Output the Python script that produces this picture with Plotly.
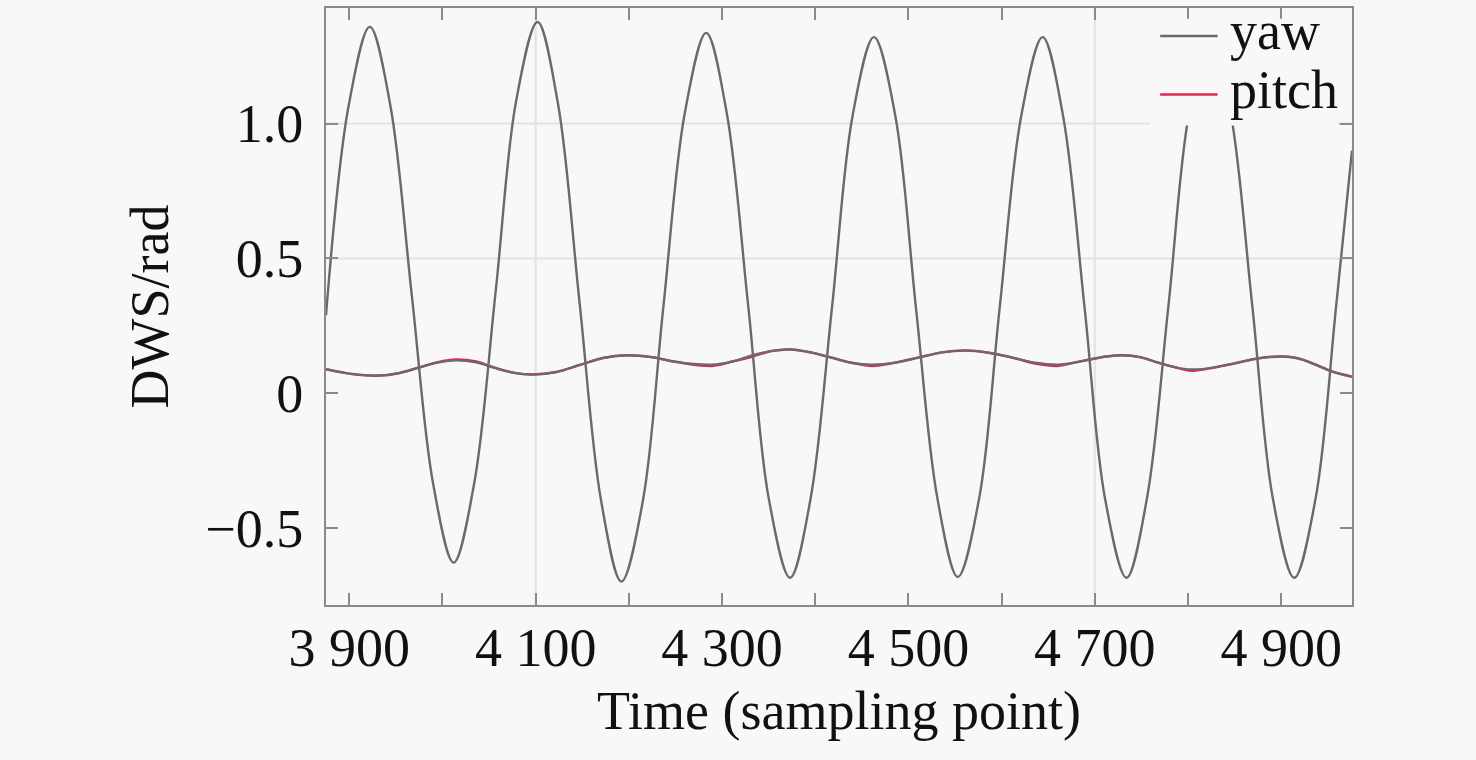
import plotly.graph_objects as go

# yaw: large oscillation (peaks, troughs, in-between points)
yaw_x = [3875, 3899, 3922, 3944, 3967, 3990, 4012, 4034, 4057, 4079, 4102,
         4124, 4147, 4170, 4192, 4215, 4237, 4260, 4283, 4305, 4328, 4350,
         4373, 4395, 4418, 4440, 4463, 4486, 4508, 4531, 4553, 4576, 4598,
         4621, 4644, 4666, 4689, 4711, 4734, 4756, 4779, 4801, 4824, 4846,
         4869, 4891, 4914, 4937, 4959, 4976]
yaw_y = [0.29, 1.06, 1.358, 1.068, 0.366, -0.336, -0.627, -0.334, 0.375, 1.083, 1.376,
         1.072, 0.340, -0.393, -0.697, -0.399, 0.320, 1.038, 1.336, 1.040, 0.327, -0.387,
         -0.683, -0.390, 0.319, 1.027, 1.320, 1.027, 0.320, -0.387, -0.680, -0.387, 0.320,
         1.027, 1.320, 1.027, 0.319, -0.390, -0.683, -0.388, 0.324, 1.035, 1.330, 1.035,
         0.324, -0.388, -0.683, -0.388, 0.324, 0.90]

# pitch: small oscillation
pitch_x = [3875, 3903, 3932, 3953, 3974, 3995, 4015, 4036, 4056, 4077, 4097,
           4122, 4147, 4172, 4198, 4225, 4250, 4289, 4311, 4333, 4353, 4373,
           4395, 4417, 4440, 4461, 4486, 4511, 4536, 4561, 4586, 4611, 4636,
           4660, 4678, 4695, 4713, 4730, 4749, 4767, 4786, 4804, 4828, 4852,
           4876, 4900, 4918, 4936, 4954, 4976]
pitch_ref = [0.090, 0.072, 0.066, 0.075, 0.095, 0.114, 0.122, 0.115, 0.095, 0.076, 0.070,
             0.079, 0.105, 0.131, 0.141, 0.134, 0.117, 0.107, 0.118, 0.142, 0.157, 0.163,
             0.152, 0.133, 0.113, 0.107, 0.114, 0.133, 0.152, 0.159, 0.151, 0.133, 0.114,
             0.107, 0.114, 0.126, 0.137, 0.141, 0.134, 0.115, 0.097, 0.089, 0.096, 0.113,
             0.130, 0.137, 0.130, 0.108, 0.082, 0.062]
pitch_y = [0.090, 0.072, 0.066, 0.075, 0.095, 0.116, 0.126, 0.118, 0.095, 0.076, 0.070,
           0.079, 0.105, 0.131, 0.141, 0.134, 0.117, 0.102, 0.118, 0.137, 0.157, 0.163,
           0.152, 0.133, 0.113, 0.102, 0.114, 0.133, 0.152, 0.159, 0.151, 0.133, 0.111,
           0.102, 0.114, 0.126, 0.137, 0.141, 0.134, 0.115, 0.097, 0.084, 0.096, 0.113,
           0.130, 0.137, 0.130, 0.108, 0.082, 0.062]

y_ticks = [-0.5, 0, 0.5, 1.0]
y_labels = ["\u22120.5", "0", "0.5", "1.0"]
grid_x = [4100, 4700]
grid_y = [0.5, 1.0]
legend_names = ["yaw", "pitch"]

bg = "#f8f8f8"
gray = "#6a6a6a"
red = "#dc2850"
axcol = "#8a8a8a"
font = "Liberation Serif"

fig = go.Figure()
fig.add_trace(go.Scatter(x=pitch_x, y=pitch_y, name="pitch", mode="lines",
                         line=dict(color=red, width=2.5, shape="spline")))
fig.add_trace(go.Scatter(x=pitch_x, y=pitch_ref, mode="lines", name="pitch ref",
                         line=dict(color=gray, width=2.2, shape="spline")))
fig.add_trace(go.Scatter(x=yaw_x, y=yaw_y, name="yaw", mode="lines",
                         line=dict(color=gray, width=2.4, shape="spline")))

for gx in grid_x:
    fig.add_shape(type="line", xref="x", yref="paper", x0=gx, x1=gx, y0=0, y1=1,
                  line=dict(color="#e2e2e2", width=2), layer="below")
for gy in grid_y:
    fig.add_shape(type="line", xref="paper", yref="y", x0=0, x1=1, y0=gy, y1=gy,
                  line=dict(color="#e2e2e2", width=2), layer="below")

# legend drawn by hand so that the rows sit as close as in the original
fig.add_shape(type="rect", xref="paper", yref="paper", x0=0.803, x1=0.986,
              y0=0.803, y1=0.982, fillcolor=bg, line=dict(width=0), layer="above")
for name, col, ly, ty in zip(legend_names, [gray, red], [0.953, 0.855], [0.961, 0.862]):
    fig.add_shape(type="line", xref="paper", yref="paper", x0=0.813, x1=0.869,
                  y0=ly, y1=ly, line=dict(color=col, width=2.5), layer="above")
    fig.add_annotation(text=name, xref="paper", yref="paper", x=0.879, y=ty,
                       xanchor="left", yanchor="middle", showarrow=False,
                       font=dict(size=54))

fig.update_layout(
    width=1476, height=760,
    margin=dict(l=326, r=124, t=6, b=155),
    paper_bgcolor=bg, plot_bgcolor=bg,
    font=dict(family=font, size=54, color="#111111"),
    separators=". ",
    showlegend=False,
)
fig.update_xaxes(
    range=[3875, 4976], tickmode="linear", tick0=3900, dtick=200,
    separatethousands=True, showgrid=False, zeroline=False,
    ticks="inside", ticklen=12, tickcolor=axcol, tickwidth=1.5,
    ticklabelstandoff=-6,
    minor=dict(dtick=100, tick0=3900, ticks="inside", ticklen=12,
               tickcolor=axcol, tickwidth=1.5, showgrid=False),
    showline=True, linecolor=axcol, linewidth=2, mirror="ticks",
    title=dict(text="Time (sampling point)", standoff=14, font=dict(size=54)),
)
fig.update_yaxes(
    range=[-0.784, 1.428], tickmode="array", tickvals=y_ticks, ticktext=y_labels,
    showgrid=False, zeroline=False,
    ticks="inside", ticklen=12, tickcolor=axcol, tickwidth=1.5,
    ticklabelstandoff=10,
    showline=True, linecolor=axcol, linewidth=2, mirror="ticks",
    title=dict(text="DWS/rad", standoff=19, font=dict(size=54)),
)

fig.write_html("out.html", config={"displayModeBar": False},
               post_script="document.body.style.margin='0';"
               "document.body.style.background='#f8f8f8';")
